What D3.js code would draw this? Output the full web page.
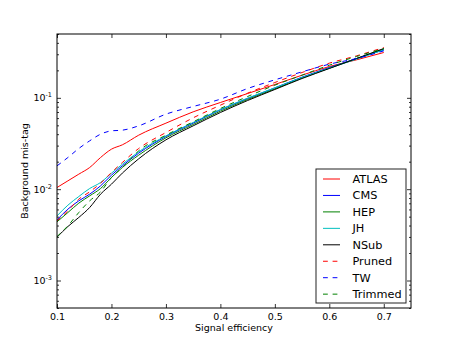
<!DOCTYPE html>
<html>
<head>
<meta charset="utf-8">
<script src="https://cdn.jsdelivr.net/npm/d3@7"></script>
<style>
  html, body { margin: 0; padding: 0; background: #fff; }
  svg { display: block; font-family: "DejaVu Sans", sans-serif; }
</style>
</head>
<body>
<svg id="chart" width="457" height="343"></svg>
<script>
// ---- data ----
const efficiency = [0.10, 0.12, 0.14, 0.16, 0.18, 0.20, 0.22, 0.25, 0.30, 0.35, 0.40, 0.45, 0.50, 0.55, 0.60, 0.65, 0.70];
const atlas   = [0.01043, 0.01234, 0.01460, 0.01727, 0.02222, 0.02742, 0.03059, 0.03901, 0.05281, 0.07026, 0.0889, 0.1115, 0.1400, 0.1771, 0.2203, 0.2607, 0.3136];
const cms     = [0.00461, 0.00604, 0.00745, 0.00882, 0.01088, 0.01423, 0.0180, 0.02479, 0.03772, 0.05281, 0.07389, 0.0983, 0.1287, 0.1684, 0.2148, 0.2696, 0.3354];
const hep     = [0.00439, 0.00555, 0.00703, 0.00845, 0.01017, 0.01342, 0.01727, 0.02356, 0.03648, 0.05105, 0.07145, 0.0959, 0.1254, 0.1656, 0.2113, 0.2696, 0.3410];
const jh      = [0.00510, 0.00668, 0.00831, 0.01017, 0.01183, 0.01497, 0.01877, 0.02564, 0.03836, 0.05371, 0.07452, 0.0992, 0.1287, 0.1670, 0.2113, 0.2652, 0.3354];
const nsub    = [0.00298, 0.00390, 0.00490, 0.00630, 0.00882, 0.01134, 0.01500, 0.02150, 0.03467, 0.04935, 0.06910, 0.0935, 0.1234, 0.1628, 0.2095, 0.2696, 0.3468];
const pruned  = [0.00450, 0.00579, 0.00777, 0.00935, 0.01163, 0.01523, 0.01959, 0.02788, 0.04172, 0.0604, 0.0831, 0.1125, 0.1472, 0.1894, 0.2397, 0.2884, 0.3557];
const tw      = [0.0180, 0.02222, 0.02788, 0.03382, 0.04001, 0.04351, 0.04426, 0.04935, 0.06626, 0.0804, 0.0967, 0.1265, 0.1574, 0.1926, 0.2336, 0.2696, 0.3269];
const trimmed = [0.00303, 0.00397, 0.00555, 0.00745, 0.00935, 0.01342, 0.01727, 0.02629, 0.03901, 0.05461, 0.07641, 0.1034, 0.1376, 0.1771, 0.2278, 0.2836, 0.3468];

const seriesNames  = ["ATLAS", "CMS", "HEP", "JH", "NSub", "Pruned", "TW", "Trimmed"];
const seriesValues = [atlas, cms, hep, jh, nsub, pruned, tw, trimmed];
const seriesColors = ["#ff0000", "#0000ff", "#008000", "#00bfbf", "#000000", "#ff0000", "#0000ff", "#008000"];
const seriesDashed = [false, false, false, false, false, true, true, true];

const xTicks = [0.1, 0.2, 0.3, 0.4, 0.5, 0.6, 0.7];
const yMajorTicks = [1e-3, 1e-2, 1e-1];
const yTickExponents = ["-3", "-2", "-1"];

const xLabel = "Signal efficiency";
const yLabel = "Background mis-tag";

// ---- layout ----
const margin = { left: 57, top: 34, right: 46, bottom: 35 };
const W = 457, H = 343;
const pw = W - margin.left - margin.right;
const ph = H - margin.top - margin.bottom;

const svg = d3.select("#chart");
const g = svg.append("g").attr("transform", `translate(${margin.left},${margin.top})`);

const x = d3.scaleLinear().domain([0.1, 0.75]).range([0, pw]);
const y = d3.scaleLog().domain([5e-4, 0.5]).range([ph, 0]);

svg.append("defs").append("clipPath").attr("id", "clip")
  .append("rect").attr("width", pw).attr("height", ph);

const line = d3.line().x(d => x(d[0])).y(d => y(d[1])).curve(d3.curveMonotoneX);
const plot = g.append("g").attr("clip-path", "url(#clip)");
seriesNames.forEach((name, i) => {
  const pts = efficiency.map((e, k) => [e, seriesValues[i][k]]);
  plot.append("path")
    .datum(pts)
    .attr("fill", "none")
    .attr("stroke", seriesColors[i])
    .attr("stroke-width", 1)
    .attr("stroke-dasharray", seriesDashed[i] ? "4.8,4.8" : null)
    .attr("d", line);
});

const yMinor = [];
for (let dec = -4; dec <= 0; dec++) {
  for (let m = 2; m <= 9; m++) {
    const v = m * Math.pow(10, dec);
    if (v >= 5e-4 && v <= 0.5) yMinor.push(v);
  }
}

const fs = 9.5;
const xAxisB = d3.axisBottom(x).tickValues(xTicks).tickFormat(d3.format(".1f"))
  .tickSizeInner(-4).tickSizeOuter(0).tickPadding(5);
const xAxisT = d3.axisTop(x).tickValues(xTicks).tickFormat("")
  .tickSizeInner(-4).tickSizeOuter(0);
const yAxisL = d3.axisLeft(y).tickValues(yMajorTicks).tickFormat("")
  .tickSizeInner(-4).tickSizeOuter(0);
const yAxisR = d3.axisRight(y).tickValues(yMajorTicks).tickFormat("")
  .tickSizeInner(-4).tickSizeOuter(0);
const yMinorL = d3.axisLeft(y).tickValues(yMinor).tickFormat("")
  .tickSizeInner(-2).tickSizeOuter(0);
const yMinorR = d3.axisRight(y).tickValues(yMinor).tickFormat("")
  .tickSizeInner(-2).tickSizeOuter(0);

function styleAxis(sel) {
  sel.select(".domain").remove();
  sel.selectAll("line").attr("stroke", "#000").attr("stroke-width", 0.8);
  sel.selectAll("text").attr("font-size", fs).attr("fill", "#000").attr("font-family", "DejaVu Sans");
}

g.append("g").attr("transform", `translate(0,${ph})`).call(xAxisB).call(styleAxis);
g.append("g").call(xAxisT).call(styleAxis);
g.append("g").call(yAxisL).call(styleAxis);
g.append("g").attr("transform", `translate(${pw},0)`).call(yAxisR).call(styleAxis);
g.append("g").call(yMinorL).call(styleAxis);
g.append("g").attr("transform", `translate(${pw},0)`).call(yMinorR).call(styleAxis);

yMajorTicks.forEach((v, i) => {
  const t = g.append("text")
    .attr("x", -5)
    .attr("y", y(v) + 3.5)
    .attr("text-anchor", "end")
    .attr("font-size", fs)
    .attr("fill", "#000");
  t.append("tspan").text("10");
  t.append("tspan").attr("dy", -4).attr("font-size", 6.5).text(yTickExponents[i]);
});

g.append("rect").attr("width", pw).attr("height", ph)
  .attr("fill", "none").attr("stroke", "#000").attr("stroke-width", 1);

svg.append("text")
  .attr("x", margin.left + pw / 2).attr("y", 331)
  .attr("text-anchor", "middle").attr("font-size", fs).attr("fill", "#000")
  .text(xLabel);
svg.append("text")
  .attr("transform", `translate(28,${margin.top + ph / 2}) rotate(-90)`)
  .attr("text-anchor", "middle").attr("font-size", fs).attr("fill", "#000")
  .text(yLabel);

const lg = svg.append("g").attr("transform", "translate(316,169)");
lg.append("rect").attr("width", 90).attr("height", 134)
  .attr("fill", "#fff").attr("stroke", "#222").attr("stroke-width", 1);
seriesNames.forEach((name, i) => {
  const cy = 10 + i * 16.45;
  lg.append("line")
    .attr("x1", 7).attr("x2", 24).attr("y1", cy).attr("y2", cy)
    .attr("stroke", seriesColors[i]).attr("stroke-width", 1)
    .attr("stroke-dasharray", seriesDashed[i] ? "4.8,4.8" : null);
  lg.append("text")
    .attr("x", 36.5).attr("y", cy + 4)
    .attr("font-size", 11.3).attr("fill", "#000")
    .text(name);
});
</script>
</body>
</html>
